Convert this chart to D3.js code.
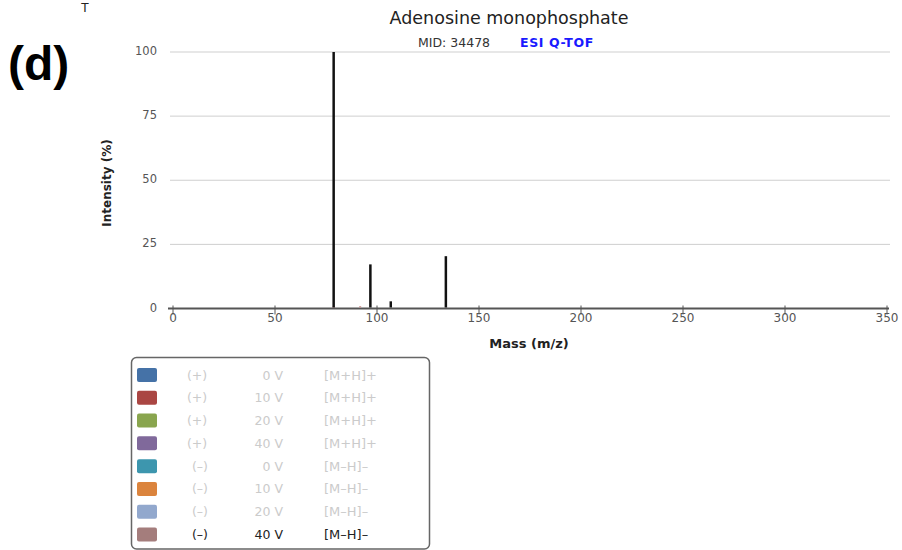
<!DOCTYPE html>
<html>
<head>
<meta charset="utf-8">
<script src="https://cdn.jsdelivr.net/npm/d3@7"></script>
<style>
  body { margin: 0; background: #fff; }
  svg { display: block; font-family: "DejaVu Sans", sans-serif; }
</style>
</head>
<body>
<div id="chart"></div>
<script>
// peaks (m/z, relative intensity)
const masses = [79, 97, 107, 134];
const intensities = [100, 17.2, 2.8, 20.4];
// tiny coloured traces near baseline
const minorMasses = [79, 92];
const minorIntensities = [0.5, 0.5];

const xTicks = [0, 50, 100, 150, 200, 250, 300, 350];
const yTicks = [0, 25, 50, 75, 100];

// legend rows
const polarity = ["(+)", "(+)", "(+)", "(+)", "(–)", "(–)", "(–)", "(–)"];
const voltage = ["0 V", "10 V", "20 V", "40 V", "0 V", "10 V", "20 V", "40 V"];
const adduct = ["[M+H]+", "[M+H]+", "[M+H]+", "[M+H]+", "[M–H]–", "[M–H]–", "[M–H]–", "[M–H]–"];
const swatch = ["#4572a7", "#aa4643", "#89a54e", "#80699b", "#3d96ae", "#db843d", "#92a8cd", "#a47d7c"];
const active = [false, false, false, false, false, false, false, true];

const W = 902, H = 550;
const svg = d3.select("#chart").append("svg")
  .attr("width", W).attr("height", H);

const x = d3.scaleLinear().domain([0, 350]).range([172.5, 886.5]);
const y = d3.scaleLinear().domain([0, 100]).range([308.5, 52]);

// gridlines
svg.append("g")
  .selectAll("line")
  .data(yTicks.filter(d => d > 0))
  .enter().append("line")
    .attr("x1", 170).attr("x2", 890)
    .attr("y1", d => y(d)).attr("y2", d => y(d))
    .attr("stroke", "#cfcfcf").attr("stroke-width", 1);

// y labels
svg.append("g")
  .selectAll("text")
  .data(yTicks)
  .enter().append("text")
    .attr("x", 157).attr("y", d => y(d) + 3)
    .attr("text-anchor", "end")
    .attr("font-size", 11.5).attr("fill", "#555")
    .text(d => d);

// x axis
const xAxis = svg.append("g")
  .attr("transform", `translate(0, ${y(0)})`)
  .call(d3.axisBottom(x).tickValues(xTicks).tickSize(6).tickSizeOuter(0));
xAxis.select(".domain").attr("stroke", "#555").attr("stroke-width", 2)
  .attr("d", "M168,0H889");
xAxis.selectAll(".tick line").attr("stroke", "#555").attr("y1", -3).attr("y2", 6);
xAxis.selectAll(".tick text")
  .attr("font-size", 12).attr("fill", "#555").attr("y", 5).attr("dy", "0.71em")
  .attr("font-family", "DejaVu Sans");

// minor traces
svg.append("g")
  .selectAll("line")
  .data(minorMasses)
  .enter().append("line")
    .attr("x1", d => x(d)).attr("x2", d => x(d))
    .attr("y1", y(0) - 1).attr("y2", (d, i) => y(minorIntensities[i]) - 1)
    .attr("stroke", "#c48a88").attr("stroke-width", 2);

// peaks
svg.append("g")
  .selectAll("line")
  .data(masses)
  .enter().append("line")
    .attr("x1", d => x(d)).attr("x2", d => x(d))
    .attr("y1", y(0) - 1).attr("y2", (d, i) => y(intensities[i]))
    .attr("stroke", "#111").attr("stroke-width", 2.5);

// axis titles
svg.append("text")
  .attr("transform", "translate(111, 183) rotate(-90)")
  .attr("text-anchor", "middle")
  .attr("font-size", 12).attr("font-weight", "bold").attr("fill", "#222")
  .text("Intensity (%)");
svg.append("text")
  .attr("x", 529).attr("y", 348)
  .attr("text-anchor", "middle")
  .attr("font-size", 13).attr("font-weight", "bold").attr("fill", "#222")
  .text("Mass (m/z)");

// titles
svg.append("text")
  .attr("x", 509).attr("y", 24)
  .attr("text-anchor", "middle")
  .attr("font-size", 17.5).attr("fill", "#222")
  .text("Adenosine monophosphate");
svg.append("text")
  .attr("x", 418).attr("y", 47)
  .attr("font-size", 12.5).attr("fill", "#333")
  .text("MID: 34478");
svg.append("text")
  .attr("x", 520).attr("y", 47)
  .attr("font-size", 12.5).attr("font-weight", "bold").attr("fill", "#1a1aff")
  .attr("letter-spacing", 0.6)
  .text("ESI Q-TOF");

// panel label
svg.append("text")
  .attr("x", 8).attr("y", 80)
  .attr("font-family", "Liberation Sans, Arial, sans-serif")
  .attr("font-size", 48).attr("font-weight", "bold").attr("fill", "#000")
  .text("(d)");
svg.append("text")
  .attr("x", 85).attr("y", 12)
  .attr("text-anchor", "middle")
  .attr("font-size", 12).attr("fill", "#222")
  .text("T");

// legend
const lg = svg.append("g");
lg.append("rect")
  .attr("x", 131.5).attr("y", 357.5).attr("width", 298).attr("height", 191.5)
  .attr("rx", 5).attr("fill", "#fff").attr("stroke", "#666").attr("stroke-width", 1.5);
const rowY = d3.scaleLinear().domain([0, 7]).range([375, 534.5]);
const rows = lg.selectAll("g.row")
  .data(polarity)
  .enter().append("g")
    .attr("class", "row")
    .attr("transform", (d, i) => `translate(0, ${rowY(i)})`);
rows.append("rect")
  .attr("x", 137).attr("y", -7).attr("width", 20).attr("height", 14).attr("rx", 2)
  .attr("fill", (d, i) => swatch[i]);
rows.append("text")
  .attr("x", (d, i) => i < 4 ? 197 : 200).attr("y", 4.5)
  .attr("text-anchor", "middle")
  .attr("font-size", 12.5)
  .attr("fill", (d, i) => active[i] ? "#222" : "#cbcbcb")
  .text(d => d);
rows.append("text")
  .attr("x", 283).attr("y", 4.5)
  .attr("text-anchor", "end")
  .attr("font-size", 12.5)
  .attr("fill", (d, i) => active[i] ? "#222" : "#cbcbcb")
  .text((d, i) => voltage[i]);
rows.append("text")
  .attr("x", 324).attr("y", 4.5)
  .attr("font-size", 13)
  .attr("fill", (d, i) => active[i] ? "#222" : "#cbcbcb")
  .text((d, i) => adduct[i]);
</script>
</body>
</html>
